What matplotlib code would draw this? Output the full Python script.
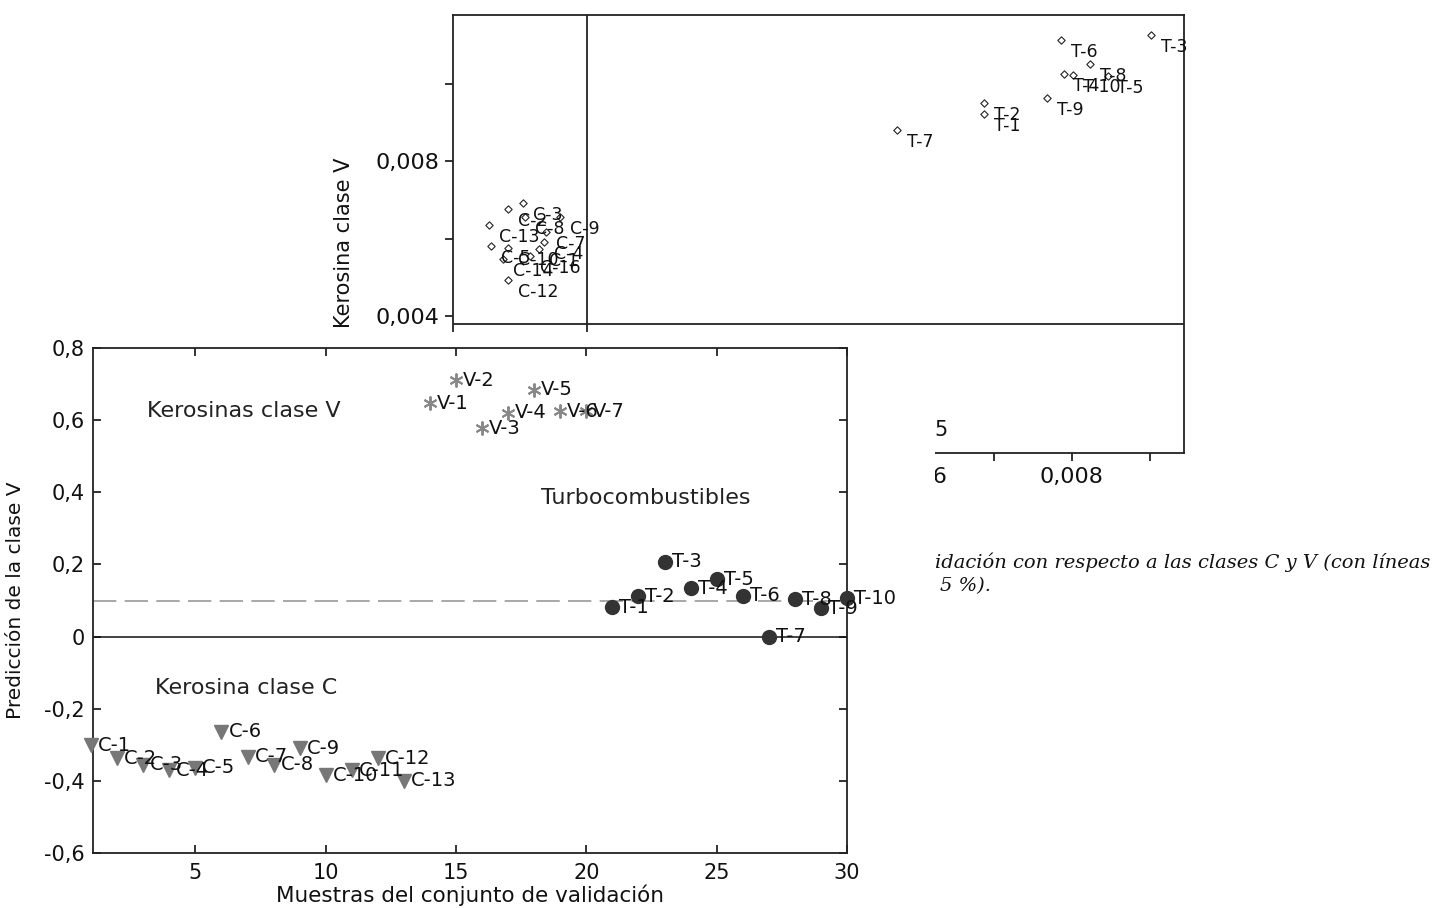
import matplotlib.pyplot as plt
from matplotlib.patches import Rectangle
from matplotlib.ticker import FuncFormatter

W, H = 1437, 908

# Front chart: prediction of class V for the validation samples
c_x = [1, 2, 3, 4, 5, 6, 7, 8, 9, 10, 11, 12, 13]
c_y = [-0.301, -0.338, -0.356, -0.370, -0.363, -0.264, -0.333,
       -0.356, -0.310, -0.384, -0.370, -0.338, -0.400]
c_lab = ['C-1', 'C-2', 'C-3', 'C-4', 'C-5', 'C-6', 'C-7',
         'C-8', 'C-9', 'C-10', 'C-11', 'C-12', 'C-13']
v_x = [14, 15, 16, 17, 18, 19, 20]
v_y = [0.647, 0.710, 0.578, 0.620, 0.684, 0.624, 0.624]
v_lab = ['V-1', 'V-2', 'V-3', 'V-4', 'V-5', 'V-6', 'V-7']
t_x = [21, 22, 23, 24, 25, 26, 27, 28, 29, 30]
t_y = [0.081, 0.112, 0.207, 0.134, 0.159, 0.113, 0.0, 0.104, 0.078, 0.106]
t_lab = ['T-1', 'T-2', 'T-3', 'T-4', 'T-5', 'T-6', 'T-7', 'T-8', 'T-9', 'T-10']
limit_v = 0.1
front_yticks = [-0.6, -0.4, -0.2, 0, 0.2, 0.4, 0.6, 0.8]
front_xticks = [5, 10, 15, 20, 25, 30]

# Back chart: Kerosina clase C vs Kerosina clase V
bt_x = [0.005765, 0.006872, 0.006872, 0.007688, 0.007868, 0.007897,
        0.008017, 0.00824, 0.008462, 0.009022]
bt_y = [0.0088, 0.009505, 0.009213, 0.009634, 0.011123, 0.010245,
        0.010219, 0.010495, 0.010194, 0.011252]
bt_lab = ['T-7', 'T-2', 'T-1', 'T-9', 'T-6', 'T-4', 'T-10', 'T-8', 'T-5', 'T-3']
bc_x = [0.000769, 0.000962, 0.000526, 0.000987, 0.001436, 0.001256, 0.001231,
        0.001167, 0.000551, 0.000769, 0.000705, 0.001051, 0.000769]
bc_y = [0.006761, 0.006916, 0.006348, 0.006555, 0.006555, 0.006168, 0.00591,
        0.005729, 0.005806, 0.005755, 0.005471, 0.005548, 0.004929]
bc_lab = ['C-2', 'C-3', 'C-13', 'C-8', 'C-9', 'C-7', 'C-4',
          'C-1', 'C-5', 'C-10', 'C-14', 'C-16', 'C-12']
lim_x = 0.001782
lim_y = 0.003794
back_yticks = [0.004, 0.006, 0.008, 0.010]
back_ylabels = ['0,004', '', '0,008', '']
back_xticks = [0.006, 0.007, 0.008, 0.009]
back_xlabels = ['0,006', '', '0,008', '']

plt.rcParams['font.family'] = 'DejaVu Sans'
fig = plt.figure(figsize=(W / 100, H / 100), dpi=100)

# ---- back chart ----
axb = fig.add_axes([453 / W, 1 - 453 / H, 731 / W, 438 / H])
axb.set_zorder(1)
axb.scatter(bc_x, bc_y, marker='D', s=14, facecolor='white', edgecolor='#222', linewidth=0.8, zorder=3)
axb.scatter(bt_x, bt_y, marker='D', s=14, facecolor='white', edgecolor='#222', linewidth=0.8, zorder=3)
for x, y, s in zip(bc_x + bt_x, bc_y + bt_y, bc_lab + bt_lab):
    axb.annotate(s, (x, y), xytext=(7, -8.5), textcoords='offset points',
                 fontsize=12.5, va='center', ha='left', color='#111')
axb.axvline(lim_x, color='#222', lw=1.3)
axb.axhline(lim_y, color='#222', lw=1.3)
axb.text(0.006244, 0.00106, '5', fontsize=15, va='center', ha='left', color='#111')
axb.set_xlim(0.000064, 0.00944)
axb.set_ylim(0.000465, 0.01177)
axb.set_yticks(back_yticks)
axb.set_yticklabels(back_ylabels)
axb.set_xticks(back_xticks)
axb.set_xticklabels(back_xlabels)
axb.tick_params(direction='out', length=6, width=1.2, labelsize=16, pad=4, colors='#111')
axb.set_ylabel('Kerosina clase V', fontsize=15, color='#111')
axb.yaxis.set_label_coords(-0.136, 0.479)
for sp in axb.spines.values():
    sp.set_linewidth(1.3)
    sp.set_color('#222')

# caption fragment
fig.text(935 / W, 1 - 562 / H, 'idación con respecto a las clases C y V (con líneas',
         family='DejaVu Serif', style='italic', fontsize=14, va='center', ha='left', color='#111')
fig.text(940 / W, 1 - 586 / H, '5 %).',
         family='DejaVu Serif', style='italic', fontsize=14, va='center', ha='left', color='#111')

# white sheet of the front chart
fig.add_artist(Rectangle((0, 0), 935 / W, (908 - 332) / H, transform=fig.transFigure,
                         facecolor='white', edgecolor='none', zorder=2))

# ---- front chart ----
ax = fig.add_axes([93 / W, 1 - 853 / H, 754 / W, 505 / H])
ax.set_zorder(3)
ax.set_facecolor('white')
ax.axhline(limit_v, color='#999', lw=1.2, dashes=(14, 5))
ax.axhline(0, color='#111', lw=1.1)
ax.plot(c_x, c_y, 'v', ms=10, color='#777', mec='#777', clip_on=False, zorder=3)
ax.plot(v_x, v_y, marker=(6, 2, 0), ls='none', ms=10, color='#888', mew=1.4, clip_on=False, zorder=3)
ax.plot(t_x, t_y, 'o', ms=10, color='#333', mec='#333', clip_on=False, zorder=3)
for xs, ys, labs in ((c_x, c_y, c_lab), (v_x, v_y, v_lab), (t_x, t_y, t_lab)):
    for x, y, s in zip(xs, ys, labs):
        ax.annotate(s, (x, y), xytext=(5, 0), textcoords='offset points',
                    fontsize=14, va='center', ha='left', color='#111', annotation_clip=False, zorder=4)

ax.text(3.16, 0.626, 'Kerosinas clase V', fontsize=16, va='center', ha='left', color='#222')
ax.text(18.27, 0.383, 'Turbocombustibles', fontsize=16, va='center', ha='left', color='#222')
ax.text(3.43, -0.142, 'Kerosina clase C', fontsize=16, va='center', ha='left', color='#222')

ax.set_xlim(1.07, 30)
ax.set_ylim(-0.6, 0.8)
ax.set_xticks(front_xticks)
ax.set_yticks(front_yticks)
ax.yaxis.set_major_formatter(FuncFormatter(lambda v, p: ('%g' % round(v, 1)).replace('.', ',')))
ax.tick_params(direction='in', length=6, width=1.2, top=True, right=True, labelsize=15, colors='#111')
ax.tick_params(axis='x', pad=7)
ax.tick_params(axis='y', pad=6)
ax.set_xlabel('Muestras del conjunto de validación', fontsize=15.5, color='#111', labelpad=1)
ax.set_ylabel('Predicción de la clase V', fontsize=14.5, color='#111')
ax.yaxis.set_label_coords(-0.09, 0.5)
for sp in ax.spines.values():
    sp.set_linewidth(1.3)
    sp.set_color('#222')

fig.savefig('out.png', dpi=100)
